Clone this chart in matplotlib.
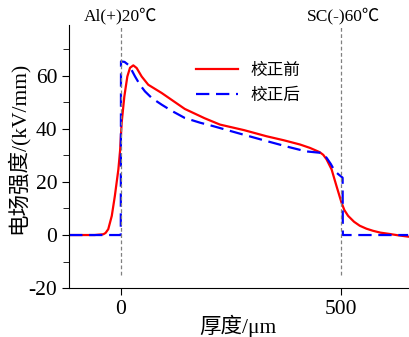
import matplotlib.pyplot as plt
from matplotlib.ticker import MultipleLocator

plt.rcParams['font.family'] = ['Liberation Serif', 'Noto Sans CJK SC']
plt.rcParams['axes.unicode_minus'] = False

# 校正前 (red)
x_before = [-118, -60, -40, -35, -29, -21, -14, -6, -2, 1.5, 7.6, 14.4, 20.5, 28, 35.6, 47, 62,
            92.5, 145, 190, 225, 280, 331, 370, 407, 430, 452, 460, 467.5, 479, 490, 501.5, 508,
            516.6, 530, 543, 558, 573, 590, 611, 630, 653]
y_before = [0, 0, 0.3, 0.8, 2.2, 7.2, 14.7, 24.7, 32, 42.3, 52.2, 59.7, 63, 63.9, 62.9, 59.7,
            56.6, 53.5, 47.5, 44, 41.6, 39.5, 37.2, 35.7, 34.1, 32.8, 31.2, 30.2, 28.5, 24.7,
            18.5, 12.2, 9.4, 7.2, 5, 3.5, 2.4, 1.6, 0.9, 0.4, -0.1, -0.6]

# 校正后 (blue)
x_after = [-118, -0.5, 0, 8, 16.6, 24, 32, 43, 54.5, 70, 92.5, 115, 145, 180, 210, 270, 331,
           380, 421, 452, 460, 467.5, 477, 486, 495, 504, 504.5, 653]
y_after = [0, 0, 65.4, 65.2, 64.1, 62.2, 59.7, 56.6, 54.1, 51.6, 49.1, 46.8, 44.1, 42.3, 41,
           38.2, 35.4, 33.2, 31.5, 31, 30.3, 29.1, 26.8, 24.1, 22.8, 21.6, 0, 0]

fig, ax = plt.subplots(figsize=(4.09, 3.37), dpi=100)
fig.subplots_adjust(left=0.169, right=1.0, bottom=0.145, top=0.925)

ax.plot(x_before, y_before, color='red', lw=1.6, label='校正前')
ax.plot(x_after, y_after, color='blue', lw=1.6, ls=(0, (6, 3)), label='校正后')

for xv in (0, 500):
    ax.plot([xv, xv], [-15, 79], color='gray', lw=0.9, ls=(0, (3, 2)))

ax.text(0, 79.3, 'Al(+)20℃', ha='center', va='bottom', fontsize=12.5)
ax.text(505, 79.3, 'SC(-)60℃', ha='center', va='bottom', fontsize=12.5)

ax.set_xlim(-118, 655)
ax.set_ylim(-20, 79)
ax.set_xticks([0, 500])
ax.yaxis.set_major_locator(MultipleLocator(20))
ax.yaxis.set_minor_locator(MultipleLocator(10))
ax.tick_params(axis='both', labelsize=15.5, direction='out', length=5)
ax.tick_params(axis='y', which='minor', length=4)

ax.spines['top'].set_visible(False)
ax.spines['right'].set_visible(False)

ax.set_xlabel('厚度/μm', fontsize=15.5)
ax.set_ylabel('电场强度/(kV/mm)', fontsize=15.5)
ax.xaxis.set_label_coords(0.497, -0.1)
ax.yaxis.set_label_coords(-0.118, 0.534)

ax.legend(loc='upper right', bbox_to_anchor=(0.726, 0.915), frameon=False, fontsize=12,
          handlelength=2.5, labelspacing=0.55)

fig.savefig('out.png', dpi=100)
